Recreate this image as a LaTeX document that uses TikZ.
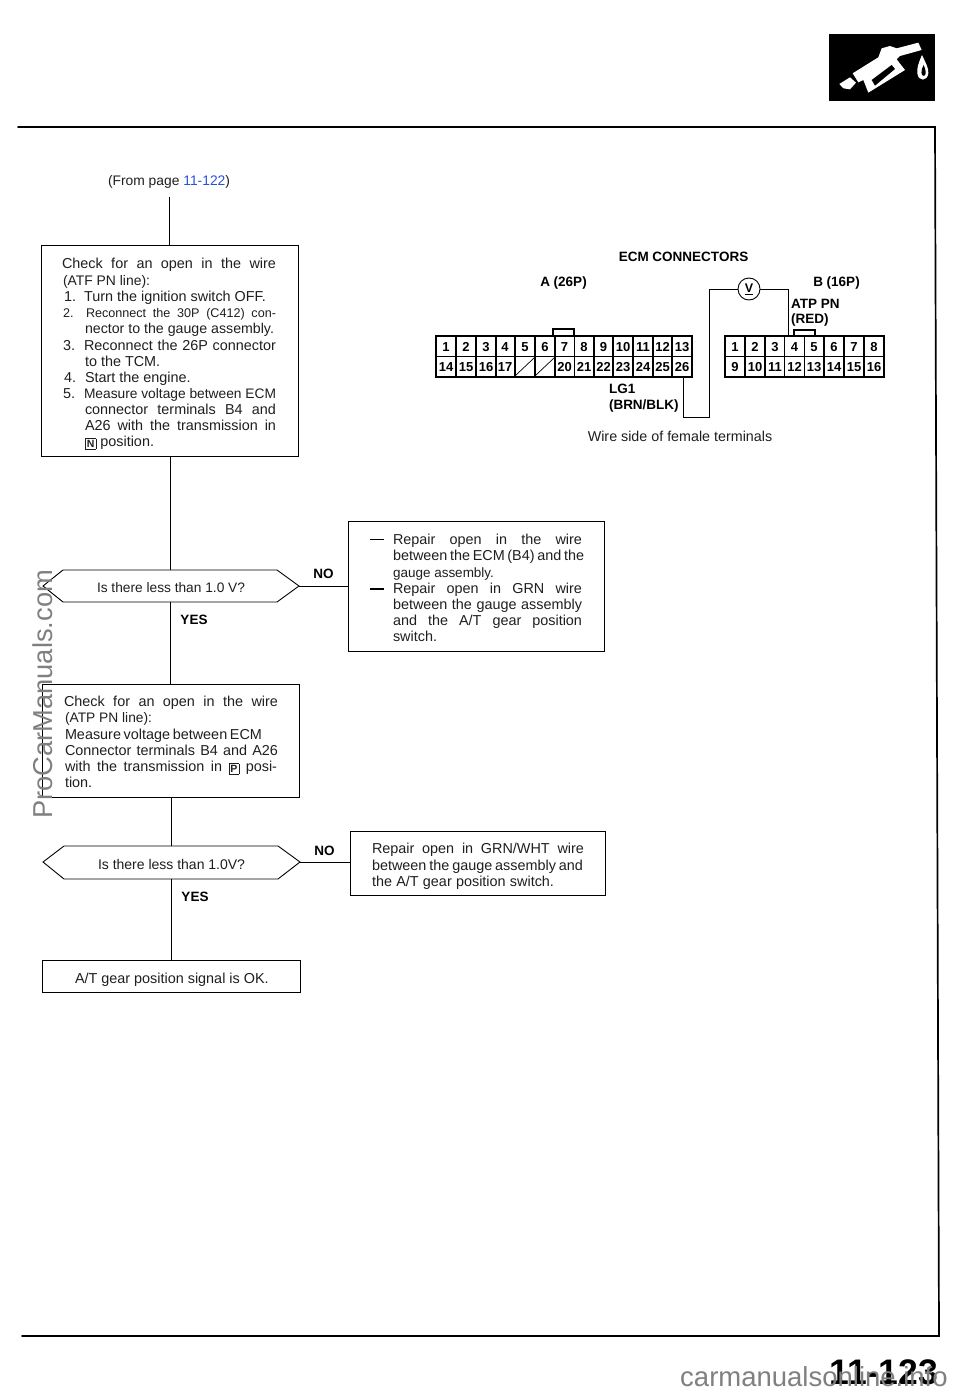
\documentclass[tikz,border=0pt]{standalone}
\usepackage{fontspec}
\usepackage{graphicx}
\setmainfont{Liberation Sans}
\usetikzlibrary{calc}
\definecolor{wm}{gray}{0.5}
\definecolor{lnk}{RGB}{40,80,220}
\newcount\tlc
\tikzset{
  txt/.style={inner sep=0pt,outer sep=0pt,anchor=base west,font=\fontsize{14.4}{16}\selectfont,text=black!88},
  boxn/.style={draw=black,line width=0.9pt,fill=none,inner sep=0pt},
  flow/.style={draw=black,line width=0.9pt},
  lbl/.style={inner sep=0pt,outer sep=0pt,font=\fontsize{13.5}{15}\bfseries\selectfont},
  num/.style={inner sep=0pt,outer sep=0pt,font=\fontsize{13}{14}\bfseries\selectfont},
  cell/.style={draw=black,line width=1.4pt},
  wire/.style={draw=black,line width=0.9pt},
  frame/.style={draw=black,line width=1.7pt}
}
% text line: x, baseline y, width, text
\newcommand{\tl}[4]{\global\advance\tlc by 1\relax
  \node[txt,name=tl\the\tlc] at (#1,#2) {\makebox[#3pt][s]{#4}};}
\newcommand{\nl}[3]{\global\advance\tlc by 1\relax
  \node[txt,name=tl\the\tlc] at (#1,#2) {#3};}
% text line scaled to a width
\newcommand{\tw}[4]{\global\advance\tlc by 1\relax
  \node[txt,name=tl\the\tlc] at (#1,#2) {\resizebox{#3pt}{!}{#4}};}
\newcommand{\fboxn}[1]{\raisebox{-1.5pt}{\setlength{\fboxsep}{1.2pt}\setlength{\fboxrule}{0.7pt}\fbox{\fontsize{10.5}{11}\bfseries\selectfont #1}}}
\begin{document}
\begin{tikzpicture}[x=1pt,y=-1pt]
\useasboundingbox (0,0) rectangle (960,1394);
\fill[white] (0,0) rectangle (960,1394);

% page frame
\coordinate (f1) at (18,127); \coordinate (f2) at (935,127);
\coordinate (f3) at (939,1336); \coordinate (f4) at (22,1336);
\draw[frame,line cap=round] (f1) -- (f2) -- (f3) -- (f4);

% icon
\fill[black] (829,34) rectangle (935,101);
\begin{scope}[shift={(800,20)},x=0.3333pt,y=-0.3333pt]
\fill[white] (118,192) -- (150,172) -- (168,188) -- (150,208) -- (130,205) -- cycle;
\fill[white] (158,160) -- (235,112) -- (245,85) -- (270,78) -- (290,85) -- (355,68) -- (365,90) -- (300,108) -- (290,118) -- (315,150) -- (205,218) -- (190,180) -- (175,187) -- cycle;
\fill[black] (215,180) -- (275,135) -- (285,147) -- (225,197) -- cycle;
\fill[white] (366,105) .. controls (355,130) and (350,145) .. (352,160) .. controls (355,185) and (382,185) .. (385,160) .. controls (387,145) and (375,125) .. (366,105) -- cycle;
\fill[black] (371,135) .. controls (362,150) and (362,168) .. (372,168) .. controls (380,165) and (378,150) .. (371,135) -- cycle;
\end{scope}

% flow nodes
\node[boxn,minimum width=257pt,minimum height=211pt] (b1) at (169.5,350.5) {};
\node[boxn,minimum width=256pt,minimum height=130pt] (r1) at (476.5,586) {};
\node[boxn,minimum width=257pt,minimum height=113pt] (b2) at (170.5,740.5) {};
\node[boxn,minimum width=255pt,minimum height=64pt] (r2) at (477.5,863) {};
\node[boxn,minimum width=258pt,minimum height=32pt] (b3) at (171,976) {};
\coordinate (src) at (169,197);

% hexagon decisions
\coordinate (d1w) at (43,586); \coordinate (d1e) at (299,586);
\coordinate (d1t) at (170,570); \coordinate (d1b) at (170,602);
\draw[flow] (d1w) -- (63,570) -- (277,570) -- (d1e) -- (277,602) -- (63,602) -- cycle;
\coordinate (d2w) at (43,862); \coordinate (d2e) at (300,862);
\coordinate (d2t) at (171,846); \coordinate (d2b) at (171,879);
\draw[flow] (d2w) -- (64,846) -- (278,846) -- (d2e) -- (278,879) -- (64,879) -- cycle;

% connectors
\draw[flow] (src) -- (src|-b1.north);
\draw[flow] (d1t|-b1.south) -- (d1t);
\draw[flow] (d1e) -- (d1e-|r1.west);
\draw[flow] (d1b) -- (d1b|-b2.north);
\draw[flow] (d2t|-b2.south) -- (d2t);
\draw[flow] (d2e) -- (d2e-|r2.west);
\draw[flow] (d2b) -- (d2b|-b3.north);

% source text
\tw{108}{185}{122}{(From page \textcolor{lnk}{11-122})}

% box 1
\tl{62}{268}{214}{Check for an open in the wire}
\tw{63}{285}{87}{(ATF PN line):}
\nl{64}{301}{1.}
\nl{84}{301}{Turn the ignition switch OFF.}
\node[txt,name=s2,font=\fontsize{12.6}{14}\selectfont] at (63,317) {2.};
\node[txt,name=s2t,font=\fontsize{12.6}{14}\selectfont] at (86,317) {\makebox[190pt][s]{Reconnect the 30P (C412) con-}};
\tw{85}{333}{189}{nector to the gauge assembly.}
\nl{63}{350}{3.}
\tl{84}{350}{192}{Reconnect the 26P connector}
\nl{85}{366}{to the TCM.}
\nl{64}{382}{4.}
\nl{85}{382}{Start the engine.}
\nl{63}{398}{5.}
\tw{84}{398}{192}{Measure voltage between ECM}
\tl{85}{414}{191}{connector terminals B4 and}
\tl{85}{430}{191}{A26 with the transmission in}
\nl{85}{446}{\fboxn{N} position.}

% diamond 1
\tw{97}{592}{148}{Is there less than 1.0 V?}
\node[lbl,name=no1] at (323.5,574) {NO};
\node[lbl,name=yes1] at (194,620) {YES};

% repair 1
\draw[line width=1.4pt] (370,539.5) coordinate (da) -- (384,539.5) coordinate (db);
\tl{393}{544}{189}{Repair open in the wire}
\tl{393}{560}{189}{between the ECM (B4) and the}
\tw{393}{577}{101}{gauge assembly.}
\draw[line width=1.4pt] (370,589) coordinate (dc) -- (384,589) coordinate (dd);
\tl{393}{593}{189}{Repair open in GRN wire}
\tl{393}{609}{189}{between the gauge assembly}
\tl{393}{625}{189}{and the A/T gear position}
\nl{393}{641}{switch.}

% box 2
\tl{64}{706}{214}{Check for an open in the wire}
\tw{65}{722}{87}{(ATP PN line):}
\tl{65}{739}{197}{Measure voltage between ECM}
\tl{65}{755}{213}{Connector terminals B4 and A26}
\tl{65}{771}{212}{with the transmission in \fboxn{P} posi-}
\nl{65}{787}{tion.}

% diamond 2
\tw{98}{869}{147}{Is there less than 1.0V?}
\node[lbl,name=no2] at (324.5,851) {NO};
\node[lbl,name=yes2] at (195,897) {YES};

% repair 2
\tl{372}{853}{212}{Repair open in GRN/WHT wire}
\tl{372}{870}{211}{between the gauge assembly and}
\tl{372}{886}{182}{the A/T gear position switch.}

% final
\node[txt,name=fin] at (75,983) {A/T gear position signal is OK.};

% ECM connectors
\node[lbl,name=ecm] at (683.5,257) {ECM CONNECTORS};
\node[lbl,name=aa] at (563.5,283.5) {A (26P)};
\node[lbl,name=bb] at (836.5,283) {B (16P)};
\node[lbl,name=atp,anchor=west] at (791,304) {ATP PN};
\node[lbl,name=red,anchor=west] at (791,320) {(RED)};
\node[lbl,name=lg,anchor=west] at (609,389) {LG1};
\node[lbl,name=brn,anchor=west] at (609,406) {(BRN/BLK)};
\node[inner sep=0pt,name=wside,font=\fontsize{14.3}{15}\selectfont,text=black!88] at (680,436) {Wire side of female terminals};

% connector A
\draw[cell] (553,336) -- (553,329) -- (574,329) -- (574,336);
\draw[cell] (436,336) rectangle (692,377);
\draw[cell] (436,356.5) -- (692,356.5);
\foreach \x in {456,476,496,515,535,555,574.3,594,613,633,653,672}
  \draw[cell,line width=1.2pt] (\x,336) -- (\x,377);
\foreach \n/\x in {1/446,2/466,3/486,4/505,5/525,6/545,7/564.5,8/584,9/603.5,10/623,11/643,12/662.5,13/682}
  \node[num,name=a\n] at (\x,347) {\n};
\foreach \n/\x in {14/446,15/466,16/486,17/505,20/564.5,21/584,22/603.5,23/623,24/643,25/662.5,26/682}
  \node[num,name=a\n] at (\x,367) {\n};
\draw[line width=0.7pt] (516,375) -- (534,358);
\draw[line width=0.7pt] (536,375) -- (554,358);

% connector B
\draw[cell] (794,336) -- (794,330) -- (815,330) -- (815,336);
\draw[cell] (725,336) rectangle (884,377);
\draw[cell] (725,356.5) -- (884,356.5);
\foreach \x in {745,765,784.5,804.5,824,844,864}
  \draw[cell,line width=1.2pt] (\x,336) -- (\x,377);
\foreach \n/\x in {1/735,2/755,3/775,4/794.5,5/814,6/834,7/854,8/874}
  \node[num,name=c\n] at (\x,347) {\n};
\foreach \n/\x in {9/735,10/755,11/775,12/794.5,13/814,14/834,15/854,16/874}
  \node[num,name=c\n] at (\x,367) {\n};

% voltmeter
\node[draw=black,line width=0.9pt,circle,minimum size=22pt,inner sep=0pt,name=vm,fill=white,font=\fontsize{12.5}{14}\bfseries\selectfont] at (749,289) {\underline{V}};
\coordinate (wb) at (788,336);
\coordinate (wa) at (683,377);
\draw[wire] (vm.east) -- (vm.east-|wb) -- (wb);
\draw[wire] (vm.west) -- (709,289) -- (709,417) -- (683,417) -- (wa);

% page number
\node[inner sep=0pt,name=pg,font=\fontsize{35.5}{40}\bfseries\selectfont,anchor=base east] at (938,1384) {11-123};

% watermarks
\node[inner sep=0pt,name=wm1,rotate=90,text=wm,font=\fontsize{27.3}{30}\selectfont,anchor=base west] at (52,819) {ProCarManuals.com};
\node[inner sep=0pt,name=wm2,text=wm,font=\fontsize{27.5}{30}\selectfont,anchor=base west] at (680,1386) {carmanualsonline.info};
\end{tikzpicture}
\end{document}
